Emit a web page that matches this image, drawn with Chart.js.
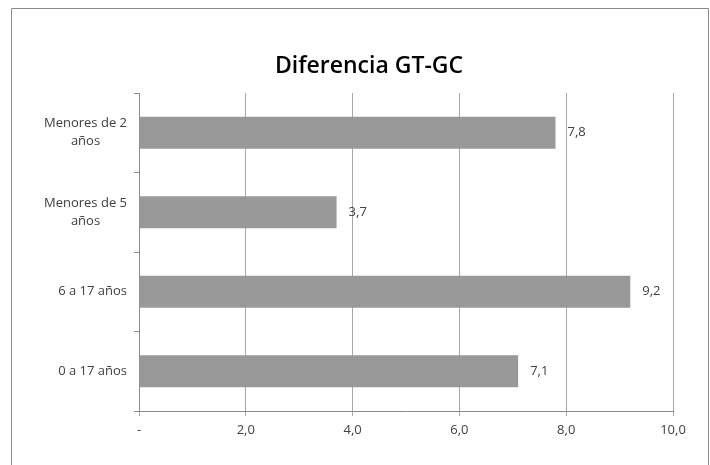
<!DOCTYPE html>
<html>
<head>
<meta charset="utf-8">
<script src="https://cdn.jsdelivr.net/npm/chart.js@4/dist/chart.umd.min.js"></script>
<style>
  html, body { margin: 0; padding: 0; background: #fff; }
  #wrap { width: 710px; height: 465px; }
  canvas { display: block; }
</style>
</head>
<body>
<div id="wrap"><canvas id="c" width="710" height="465"></canvas></div>
<script>
// Categories (top to bottom) and their values
const categories = [
  ["Menores de 2", "años"],
  ["Menores de 5", "años"],
  ["6 a 17 años"],
  ["0 a 17 años"]
];
const values = [7.8, 3.7, 9.2, 7.1];
const xTickValues = [0, 2, 4, 6, 8, 10];
const xTickLabels = ["-", "2,0", "4,0", "6,0", "8,0", "10,0"];
const chartTitle = "Diferencia GT-GC";

const FONT = "'Open Sans', 'DejaVu Sans', sans-serif";
const TEXT = "#404040";

const fmt = v => v.toFixed(1).replace(".", ",");

// Frame, title, category labels and value labels
const decor = {
  id: "decor",
  beforeDraw(chart) {
    const ctx = chart.ctx;
    ctx.save();
    ctx.fillStyle = "#fff";
    ctx.fillRect(0, 0, chart.width, chart.height);
    ctx.strokeStyle = "#8a8a8a";
    ctx.lineWidth = 1;
    ctx.beginPath();
    ctx.moveTo(11.5, chart.height);
    ctx.lineTo(11.5, 8.5);
    ctx.lineTo(708.5, 8.5);
    ctx.lineTo(708.5, chart.height);
    ctx.stroke();
    ctx.restore();
  },
  afterDraw(chart) {
    const ctx = chart.ctx;
    const yScale = chart.scales.y;
    ctx.save();
    // title
    ctx.fillStyle = "#000";
    ctx.font = "600 23px " + FONT;
    ctx.textAlign = "center";
    ctx.textBaseline = "alphabetic";
    ctx.fillText(chartTitle, 369, 73);

    // category labels: block right-aligned, lines centred within the block
    ctx.font = "13px " + FONT;
    ctx.fillStyle = TEXT;
    ctx.textBaseline = "middle";
    const lineH = 18;
    const right = yScale.right - 12;
    categories.forEach((lines, i) => {
      const yc = yScale.getPixelForValue(i);
      const w = Math.max(...lines.map(l => ctx.measureText(l).width));
      const cx = right - w / 2;
      const y0 = yc - (lines.length - 1) * lineH / 2;
      ctx.textAlign = "center";
      lines.forEach((l, k) => ctx.fillText(l, cx, y0 + k * lineH));
    });

    // value labels at bar ends
    const meta = chart.getDatasetMeta(0);
    ctx.textAlign = "left";
    meta.data.forEach((bar, i) => {
      ctx.fillText(fmt(values[i]), bar.x + 12, bar.y);
    });
    ctx.restore();
  }
};

new Chart(document.getElementById("c"), {
  type: "bar",
  data: {
    labels: categories.map(c => c.join(" ")),
    datasets: [{
      data: values,
      backgroundColor: "#999999",
      borderWidth: 0,
      barPercentage: 0.4,
      categoryPercentage: 1.0
    }]
  },
  options: {
    indexAxis: "y",
    responsive: false,
    animation: false,
    devicePixelRatio: 1,
    layout: { padding: { top: 93, right: 37, bottom: 0, left: 0 } },
    plugins: {
      legend: { display: false },
      title: { display: false },
      tooltip: { enabled: false }
    },
    scales: {
      x: {
        type: "linear",
        min: 0,
        max: 10,
        afterBuildTicks(scale) {
          scale.ticks = xTickValues.map(v => ({ value: v }));
        },
        afterFit(scale) { scale.height = 54; },
        ticks: {
          callback: (v) => xTickLabels[xTickValues.indexOf(v)],
          color: TEXT,
          font: { family: FONT, size: 13 },
          padding: 6,
          maxRotation: 0
        },
        grid: { color: "#a8a8a8", tickLength: 5, drawTicks: true },
        border: { color: "#8a8a8a" }
      },
      y: {
        type: "category",
        offset: true,
        afterFit(scale) { scale.width = 139; },
        ticks: { display: false },
        grid: {
          offset: true,
          drawOnChartArea: false,
          drawTicks: true,
          tickLength: 5,
          color: "#8a8a8a"
        },
        border: { color: "#8a8a8a" }
      }
    }
  },
  plugins: [decor]
});
</script>
</body>
</html>
